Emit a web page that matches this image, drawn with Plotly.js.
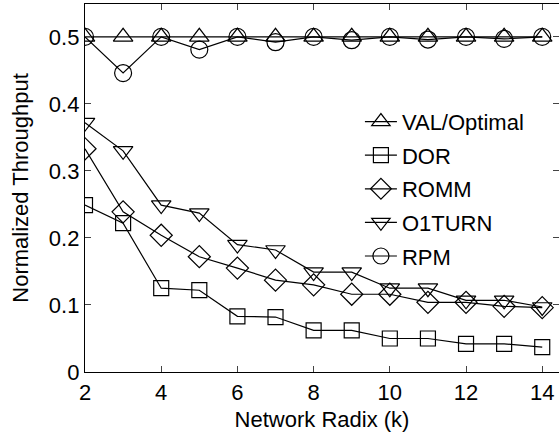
<!DOCTYPE html>
<html><head><meta charset="utf-8">
<script src="https://cdn.plot.ly/plotly-3.0.1.min.js"></script>
<style>html,body{margin:0;padding:0;background:#fff}#c{width:559px;height:432px}</style>
</head><body><div id="c"></div>
<script>
const radix = [2,3,4,5,6,7,8,9,10,11,12,13,14];
const valOptimal = [0.5,0.5,0.5,0.5,0.5,0.5,0.5,0.5,0.5,0.5,0.5,0.5,0.5];
const dor = [0.249,0.222,0.125,0.122,0.083,0.082,0.062,0.062,0.050,0.050,0.042,0.042,0.037];
const romm = [0.333,0.239,0.204,0.172,0.155,0.137,0.130,0.116,0.116,0.104,0.104,0.098,0.096];
const o1turn = [0.372,0.330,0.249,0.237,0.190,0.182,0.149,0.149,0.125,0.125,0.107,0.107,0.097];
const rpm = [0.5,0.446,0.5,0.481,0.5,0.492,0.5,0.495,0.5,0.496,0.5,0.497,0.5];
const names = ['VAL/Optimal','DOR','ROMM','O1TURN','RPM'];
const series = [valOptimal, dor, romm, o1turn, rpm];
const symbols = ['triangle-up-open','square-open','diamond-open','triangle-down-open','circle-open'];
const sizes = [17,15,17,17,17];
const traces = series.map((s,i)=>({
  x: radix, y: s, name: names[i], type:'scatter', mode:'lines+markers',
  legendgroup: 'g'+i,
  line:{color:'#000', width:1.2},
  marker:{symbol:symbols[i], size:sizes[i], color:'#000', line:{color:'#000', width:1.2}}
}));
const font = {family:'Liberation Sans, Arial, sans-serif', size:22, color:'#000'};
const layout = {
  width:559, height:432,
  margin:{l:85, r:0, t:4, b:60},
  paper_bgcolor:'#fff', plot_bgcolor:'#fff',
  font: font,
  showlegend:true,
  legend:{x:0.58, y:0.737, xanchor:'left', yanchor:'top', bgcolor:'rgba(0,0,0,0)',
    traceorder:'grouped', tracegroupgap:2, font:font, itemwidth:32},
  xaxis:{range:[2,14.44], tickvals:[2,4,6,8,10,12,14], ticks:'inside', ticklen:6,
    showline:true, mirror:'ticks', linecolor:'#000', linewidth:1.2, showgrid:false, zeroline:false,
    tickfont:font, title:{text:'Network Radix (k)', font:font, standoff:8}},
  yaxis:{range:[0,0.549], tickvals:[0,0.1,0.2,0.3,0.4,0.5], ticktext:['0','0.1','0.2','0.3','0.4','0.5'],
    ticks:'inside', ticklen:6, showline:true, mirror:'ticks', linecolor:'#000', linewidth:1.2,
    showgrid:false, zeroline:false, tickfont:font, title:{text:'Normalized Throughput', font:font, standoff:14}}
};
Plotly.newPlot('c', traces, layout, {displayModeBar:false, staticPlot:true});
</script></body></html>
